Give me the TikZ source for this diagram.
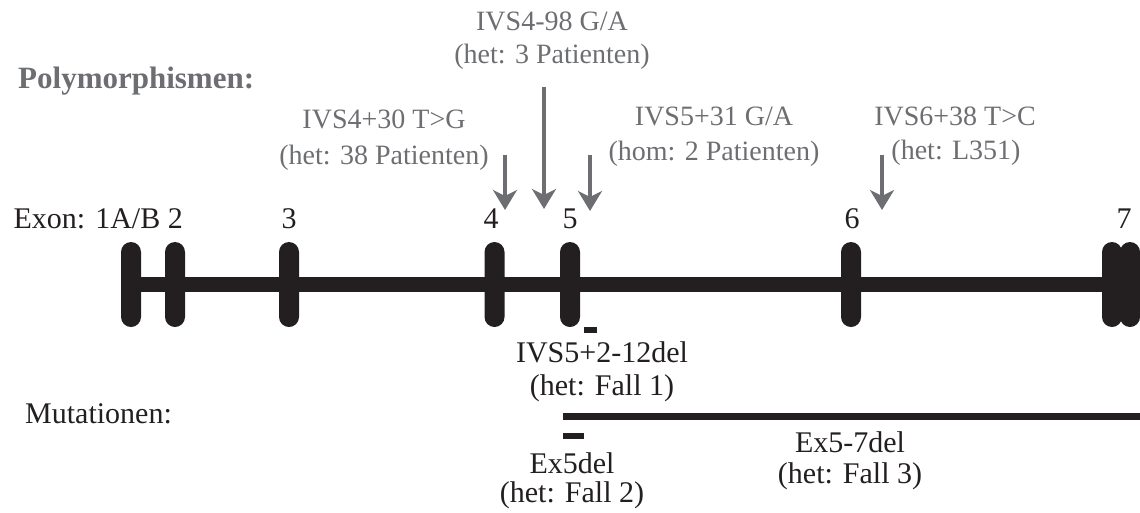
\documentclass[tikz,border=0pt]{standalone}
\usepackage{fontspec}
\setmainfont{Liberation Serif}
\usetikzlibrary{arrows.meta}
\definecolor{polygray}{HTML}{6D6E71}
\definecolor{ink}{HTML}{231F20}
\begin{document}
\begin{tikzpicture}[x=1pt,y=-1pt,
  exon/.style={fill=ink, rounded corners=10pt, minimum width=20pt, minimum height=85pt, inner sep=0pt},
  gene/.style={draw=ink, line width=15pt},
  snp/.style={draw=polygray, line width=4pt, -{Stealth[length=20pt,width=24pt,inset=6pt]}},
  glabel/.style={text=polygray, font=\fontsize{28}{33}\selectfont, anchor=base, inner sep=0pt},
  blabel/.style={text=ink, font=\fontsize{30}{34}\selectfont, anchor=base, inner sep=0pt},
  mut/.style={fill=ink}
]
\useasboundingbox (0,0) rectangle (1140,512);

% exons along the gene
\node[exon] (e1)  at (131,284.5) {};
\node[exon] (e2)  at (175,284.5) {};
\node[exon] (e3)  at (289,284.5) {};
\node[exon] (e4)  at (494.5,284.5) {};
\node[exon] (e5)  at (570,284.5) {};
\node[exon] (e6)  at (851,284.5) {};
\node[exon] (e7a) at (1112,284.5) {};
\node[exon] (e7b) at (1130,284.5) {};
\draw[gene] (e1.center) -- (e7a.center);

% exon numbers
\node[blabel, anchor=base east] (exlab) at (183,228) {Exon: 1A/B 2};
\node[blabel] (n3) at (289,228) {3};
\node[blabel] (n4) at (491,228) {4};
\node[blabel] (n5) at (570,228) {5};
\node[blabel] (n6) at (852,228) {6};
\node[blabel] (n7) at (1124,228) {7};

% polymorphisms
\node[glabel, anchor=base west, font=\bfseries\fontsize{31}{36}\selectfont] (poly) at (18,88) {Polymorphismen:};
\node[glabel] (p1a) at (552,30)  {IVS4-98 G/A};
\node[glabel] (p1b) at (552,63)  {(het: 3 Patienten)};
\node[glabel] (p2a) at (384,128) {IVS4+30 T>G};
\node[glabel] (p2b) at (384,164) {(het: 38 Patienten)};
\node[glabel] (p3a) at (714,125) {IVS5+31 G/A};
\node[glabel] (p3b) at (714,160) {(hom: 2 Patienten)};
\node[glabel] (p4a) at (955,125) {IVS6+38 T>C};
\node[glabel] (p4b) at (956,159) {(het: L351)};

\coordinate (s1) at (505,155); \coordinate (t1) at (505,210);
\coordinate (s2) at (544,87);  \coordinate (t2) at (544,209);
\coordinate (s3) at (590,155); \coordinate (t3) at (590,211);
\coordinate (s4) at (882,155); \coordinate (t4) at (882,210);
\draw[snp] (s1) -- (t1);
\draw[snp] (s2) -- (t2);
\draw[snp] (s3) -- (t3);
\draw[snp] (s4) -- (t4);

% mutations
\fill[mut] (584,327) rectangle (597,333);
\fill[mut] (563,413) rectangle (1140,420);
\fill[mut] (563,433) rectangle (584,439);
\node[blabel, anchor=base west] (mutlab) at (25,423) {Mutationen:};
\node[blabel] (m1a) at (602,362) {IVS5+2-12del};
\node[blabel] (m1b) at (602,395) {(het: Fall 1)};
\node[blabel] (m2a) at (572,473) {Ex5del};
\node[blabel] (m2b) at (572,502) {(het: Fall 2)};
\node[blabel] (m3a) at (850,452) {Ex5-7del};
\node[blabel] (m3b) at (850,483) {(het: Fall 3)};
\end{tikzpicture}
\end{document}
